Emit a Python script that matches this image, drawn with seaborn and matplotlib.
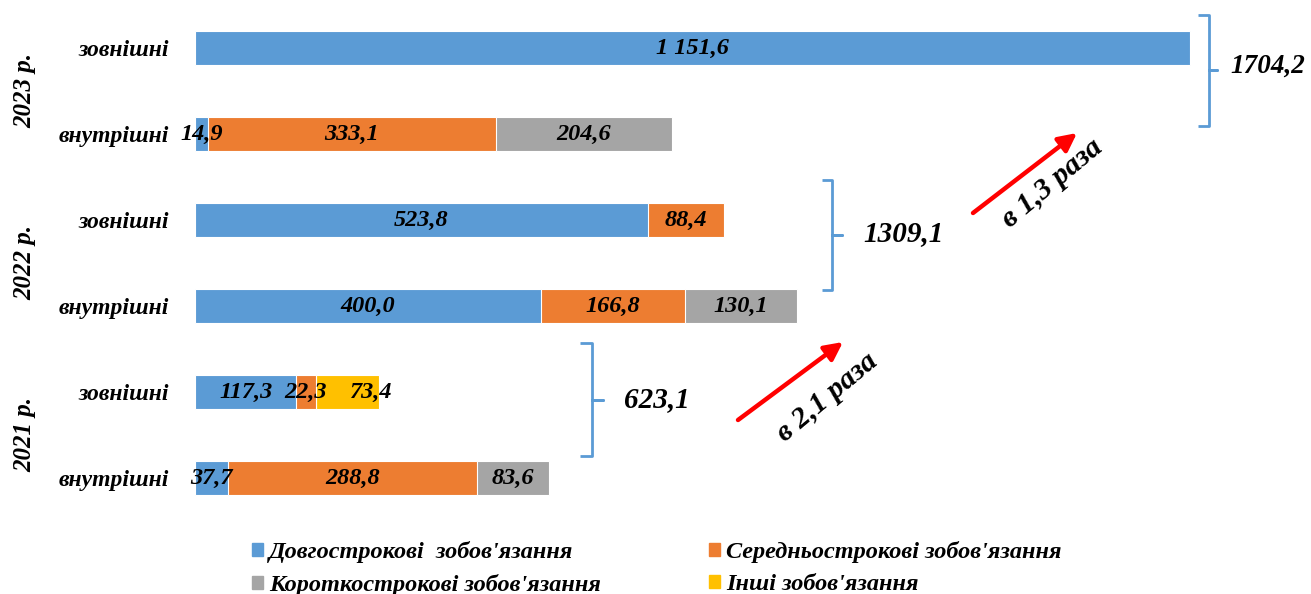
import matplotlib
matplotlib.use("Agg")
import matplotlib.pyplot as plt
import matplotlib.patches as mpatches
import seaborn as sns
import numpy as np
import pandas as pd

# ---------------- data ----------------
years = ["2023 р.", "2022 р.", "2021 р."]
kinds = ["зовнішні", "внутрішні"]
series = ["Довгострокові  зобов'язання", "Середньострокові зобов'язання",
          "Короткострокові зобов'язання", "Інші зобов'язання"]
# rows top to bottom: 2023 зовн, 2023 внутр, 2022 зовн, 2022 внутр, 2021 зовн, 2021 внутр
long_term = [1151.6, 14.9, 523.8, 400.0, 117.3, 37.7]
mid_term = [0.0, 333.1, 88.4, 166.8, 22.3, 288.8]
short_term = [0.0, 204.6, 0.0, 130.1, 0.0, 83.6]
other = [0.0, 0.0, 0.0, 0.0, 73.4, 0.0]
totals = ["1704,2", "1309,1", "623,1"]
growth = ["в 1,3 раза", "в 2,1 раза"]
colors = ["#5B9BD5", "#ED7D31", "#A5A5A5", "#FFC000"]

# ---------------- style ----------------
sns.set_theme(style="white")
plt.rcParams["font.family"] = ["Liberation Serif", "DejaVu Serif"]
plt.rcParams["font.weight"] = "bold"
plt.rcParams["font.style"] = "italic"
plt.rcParams["text.color"] = "black"
plt.rcParams["ytick.labelcolor"] = "black"

W, H = 1311, 594
fig = plt.figure(figsize=(W / 100, H / 100), dpi=100)
ax_left_px, ax_top_px, ax_bot_px = 195, 0, 520
ax = fig.add_axes([ax_left_px / W, (H - ax_bot_px) / H, 1 - ax_left_px / W, (ax_bot_px - ax_top_px) / H])

px_per_unit = 0.864
row0_px, row_step_px = 48, 86
def dx(px):
    return (px - ax_left_px) / px_per_unit
def dy(py):
    return (py - row0_px) / row_step_px

row_ids = [f"{y}|{k}" for y in years for k in kinds]
vals = np.array([long_term, mid_term, short_term, other])
cum = np.cumsum(vals, axis=0)

# draw cumulative bars from back (full) to front (first segment)
for i in range(len(series) - 1, -1, -1):
    df = pd.DataFrame({"row": row_ids, "value": cum[i]})
    sns.barplot(data=df, x="value", y="row", order=row_ids, orient="h",
                color=colors[i], saturation=1, width=0.395,
                edgecolor="white", linewidth=0.8, ax=ax)

ax.set_xlim(0, dx(W))
ax.set_ylim(dy(ax_bot_px), dy(ax_top_px))
for s in ax.spines.values():
    s.set_visible(False)
ax.set_xticks([])
ax.set_xlabel("")
ax.set_ylabel("")
ax.set_yticks(range(len(row_ids)))
ax.set_yticklabels([r.split("|")[1] for r in row_ids], fontsize=17,
                   fontweight="bold", fontstyle="italic", color="black")
ax.tick_params(axis="y", length=0, pad=19)

# value labels
def fmt(v):
    s = f"{v:,.1f}".replace(",", " ").replace(".", ",")
    return s
nudge = {(4, 3): 28}
for i in range(len(series)):
    for r in range(len(row_ids)):
        v = vals[i, r]
        if v <= 0:
            continue
        left = cum[i, r] - v
        xc = left + v / 2 + nudge.get((r, i), 0)
        ax.text(xc, r, fmt(v), ha="center", va="center", fontsize=17.5,
                fontweight="bold", fontstyle="italic", color="black")

# year labels
for g, y in enumerate(years):
    fig.text(25 / W, 1 - (row0_px + row_step_px * (2 * g + 0.5)) / H, y,
             rotation=90, ha="center", va="center", fontsize=18,
             fontweight="bold", fontstyle="italic", color="black")

# brackets
brace_color = "#5B9BD5"
braces = [  # (hook_left_px, vertical_px, top_px, bottom_px, mid_px, tick_px)
    (1198, 1209, 15, 126, 70, 1217),
    (822, 832, 180, 290, 235, 842),
    (580, 592, 343, 456, 400, 603),
]
for (hl, vx, tp, bt, md, tk) in braces:
    ax.plot([dx(hl), dx(vx), dx(vx), dx(tk), dx(vx), dx(vx), dx(hl)],
            [dy(tp), dy(tp), dy(md), dy(md), dy(md), dy(bt), dy(bt)],
            color=brace_color, lw=2, solid_joinstyle="round",
            solid_capstyle="butt", clip_on=False)

total_pos = [(1268, 66, 19.5), (904, 234, 21), (657, 400, 21)]
for t, (x, y, fs) in zip(totals, total_pos):
    ax.text(dx(x), dy(y), t, ha="center", va="center", fontsize=fs,
            fontweight="bold", fontstyle="italic", color="black")

# growth arrows
arrows = [((973, 213), (1077, 133), (1052, 183)),
          ((738, 420), (843, 342), (827, 397))]
for txt, (tail, head, tpos) in zip(growth, arrows):
    ax.annotate("", xy=(dx(head[0]), dy(head[1])), xytext=(dx(tail[0]), dy(tail[1])),
                arrowprops=dict(arrowstyle="-|>,head_length=0.9,head_width=0.45",
                                color="red", lw=3.2, shrinkA=0, shrinkB=0))
    ax.text(dx(tpos[0]), dy(tpos[1]), txt, ha="center", va="center",
            rotation=40, fontsize=21.5, fontweight="bold", fontstyle="italic",
            rotation_mode="anchor", color="black")

# legend
order = [0, 2, 1, 3]
handles = [mpatches.Patch(color=colors[i]) for i in order]
labels = [series[i] for i in order]
leg = fig.legend(handles, labels, ncol=2, loc="upper left",
                 bbox_to_anchor=(252 / W, 1 - 541 / H), frameon=False,
                 handlelength=0.45, handleheight=0.45,
                 handletextpad=0.25, columnspacing=4.45, labelspacing=0.45,
                 borderpad=0, borderaxespad=0,
                 prop=dict(family=["Liberation Serif"], weight="bold", style="italic", size=17.5))
for t in leg.get_texts():
    t.set_color("black")

fig.savefig("out.png", dpi=100)
